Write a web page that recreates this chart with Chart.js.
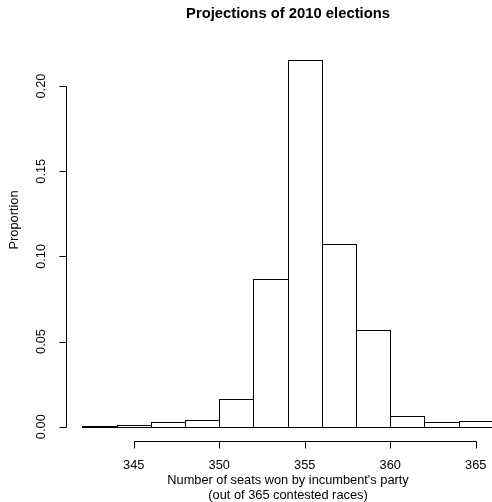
<!DOCTYPE html>
<html>
<head>
<meta charset="utf-8">
<script src="https://cdn.jsdelivr.net/npm/chart.js@4"></script>
<style>
html,body{margin:0;padding:0;background:#fff;overflow:hidden;}
canvas{display:block;}
</style>
</head>
<body>
<canvas id="c" width="492" height="502"></canvas>
<script>
// Bin centres (bins of width 2 from 342 to 366)
const binCenters = [343, 345, 347, 349, 351, 353, 355, 357, 359, 361, 363, 365];
const proportions = [0.0004, 0.001, 0.0029, 0.0041, 0.016, 0.0865, 0.2155, 0.107, 0.0566, 0.006, 0.003, 0.0034];
const xTicks = [345, 350, 355, 360, 365];
const yTicks = [0, 0.05, 0.10, 0.15, 0.20];
const yTickLabels = ["0.00", "0.05", "0.10", "0.15", "0.20"];
const titleText = "Projections of 2010 elections";
const xLabelLines = ["Number of seats won by incumbent's party", "(out of 365 contested races)"];
const yLabelText = "Proportion";

const FONT = "'Liberation Sans', Arial, Helvetica, sans-serif";

const rStyle = {
  id: 'rStyle',
  afterDatasetsDraw(chart) {
    const ctx = chart.ctx;
    const xs = chart.scales.x, ys = chart.scales.y;
    const area = chart.chartArea;
    ctx.save();
    // bar outlines
    ctx.strokeStyle = '#000';
    ctx.lineWidth = 1;
    const meta = chart.getDatasetMeta(0);
    meta.data.forEach(el => {
      const l = Math.round(el.x - el.width / 2) + 0.5;
      const r = Math.round(el.x + el.width / 2) + 0.5;
      const t = Math.round(el.y) + 0.5;
      const b = Math.round(el.base) + 0.5;
      ctx.strokeRect(l, t, r - l, b - t);
    });
    // x axis
    const axY = Math.round(area.bottom) + 0.5;
    ctx.beginPath();
    ctx.moveTo(Math.round(xs.getPixelForValue(xTicks[0])) + 0.5, axY);
    ctx.lineTo(Math.round(xs.getPixelForValue(xTicks[xTicks.length - 1])) + 0.5, axY);
    xTicks.forEach(v => {
      const px = Math.round(xs.getPixelForValue(v)) + 0.5;
      ctx.moveTo(px, axY);
      ctx.lineTo(px, axY + 7);
    });
    ctx.stroke();
    ctx.fillStyle = '#000';
    ctx.font = '12.8px ' + FONT;
    ctx.textAlign = 'center';
    ctx.textBaseline = 'middle';
    xTicks.forEach(v => {
      ctx.fillText(String(v), xs.getPixelForValue(v), 465);
    });
    ctx.fillText(xLabelLines[0], 288, 480);
    ctx.fillText(xLabelLines[1], 288, 495.5);
    // y axis
    const axX = Math.round(area.left) + 0.5;
    ctx.beginPath();
    ctx.moveTo(axX, Math.round(ys.getPixelForValue(yTicks[0])) + 0.5);
    ctx.lineTo(axX, Math.round(ys.getPixelForValue(yTicks[yTicks.length - 1])) + 0.5);
    yTicks.forEach(v => {
      const py = Math.round(ys.getPixelForValue(v)) + 0.5;
      ctx.moveTo(axX, py);
      ctx.lineTo(axX - 7, py);
    });
    ctx.stroke();
    yTicks.forEach((v, i) => {
      ctx.save();
      ctx.translate(41.5, ys.getPixelForValue(v));
      ctx.rotate(-Math.PI / 2);
      ctx.fillText(yTickLabels[i], 0, 0);
      ctx.restore();
    });
    ctx.save();
    ctx.translate(14.5, 220);
    ctx.rotate(-Math.PI / 2);
    ctx.fillText(yLabelText, 0, 0);
    ctx.restore();
    // title
    ctx.font = 'bold 14.8px ' + FONT;
    ctx.fillText(titleText, 288, 14);
    ctx.restore();
  }
};

new Chart(document.getElementById('c'), {
  type: 'bar',
  data: {
    datasets: [{
      data: binCenters.map((x, i) => ({ x: x, y: proportions[i] })),
      backgroundColor: '#ffffff',
      borderWidth: 0,
      barPercentage: 1.0,
      categoryPercentage: 1.0
    }]
  },
  options: {
    responsive: false,
    animation: false,
    events: [],
    layout: { padding: { left: 66, top: 44, right: 0, bottom: 61 } },
    plugins: { legend: { display: false }, tooltip: { enabled: false }, title: { display: false } },
    scales: {
      x: { type: 'linear', display: false, min: 341.04, max: 365.95, offset: false, grid: { display: false } },
      y: { type: 'linear', display: false, min: -0.0084, max: 0.2247, grid: { display: false } }
    }
  },
  plugins: [rStyle]
});
</script>
</body>
</html>
